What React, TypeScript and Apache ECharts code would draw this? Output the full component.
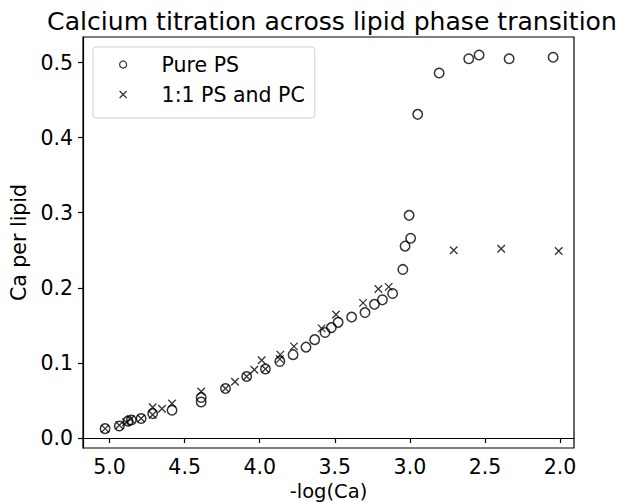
import React, { useEffect, useRef } from "react";
import * as echarts from "echarts";

const pureX = [5.03, 4.935, 4.877, 4.855, 4.79, 4.713, 4.584, 4.39, 4.39, 4.228, 4.087, 3.962, 3.866, 3.778, 3.692, 3.634, 3.565, 3.523, 3.478, 3.388, 3.299, 3.236, 3.183, 3.115, 3.047, 3.032, 2.995, 3.005, 2.948, 2.805, 2.608, 2.539, 2.339, 2.046];
const pureY = [0.0125, 0.016, 0.0225, 0.024, 0.026, 0.0325, 0.037, 0.048, 0.054, 0.066, 0.082, 0.092, 0.102, 0.111, 0.121, 0.131, 0.1405, 0.147, 0.154, 0.161, 0.167, 0.178, 0.184, 0.1925, 0.2245, 0.2555, 0.266, 0.2965, 0.431, 0.486, 0.505, 0.51, 0.505, 0.507];

const mixX = [5.03, 4.935, 4.89, 4.86, 4.79, 4.713, 4.713, 4.651, 4.584, 4.39, 4.228, 4.165, 4.087, 4.036, 3.987, 3.962, 3.866, 3.863, 3.772, 3.588, 3.492, 3.312, 3.21, 3.141, 2.708, 2.392, 2.009];
const mixY = [0.0125, 0.017, 0.021, 0.025, 0.026, 0.031, 0.041, 0.039, 0.046, 0.062, 0.066, 0.075, 0.082, 0.091, 0.1035, 0.092, 0.105, 0.111, 0.122, 0.146, 0.1645, 0.18, 0.1985, 0.2013, 0.25, 0.252, 0.249];

const seriesNames = ["Pure PS", "1:1 PS and PC"];
const titleText = "Calcium titration across lipid phase transition";
const xName = "-log(Ca)";
const yName = "Ca per lipid";

const FONT = "DejaVu Sans";
const CROSS = "path://M0,0L10,10M10,0L0,10";
const FS = 20.5;

export default function App() {
  const ref = useRef<HTMLDivElement>(null);
  useEffect(() => {
    if (!ref.current) return;
    const chart = echarts.init(ref.current, undefined, { renderer: "svg" });
    const circleStyle = { color: "transparent", borderColor: "#000", borderWidth: 1.5 };
    const crossStyle = { color: "transparent", borderColor: "#000", borderWidth: 1.3 };
    chart.setOption({
      animation: false,
      backgroundColor: "#fff",
      title: {
        text: titleText,
        left: 327,
        textAlign: "center",
        top: 4,
        textStyle: { fontFamily: FONT, fontSize: 25.1, fontWeight: "normal", color: "#000" },
      },
      legend: {
        orient: "vertical",
        left: 93,
        top: 47,
        padding: [7, 10, 13, 26],
        itemGap: 9,
        itemWidth: 7,
        itemHeight: 7,
        borderColor: "#d0d0d0",
        borderWidth: 1,
        borderRadius: 3,
        backgroundColor: "#fff",
        textStyle: { fontFamily: FONT, fontSize: FS, color: "#000", padding: [0, 0, 0, 30] },
        data: [
          { name: seriesNames[0], icon: "circle", itemStyle: { color: "transparent", borderColor: "#000", borderWidth: 1.2 } },
          { name: seriesNames[1], icon: CROSS, itemStyle: { color: "transparent", borderColor: "#000", borderWidth: 1.2 } },
        ],
      },
      grid: {
        left: 83,
        right: 45,
        top: 37,
        bottom: 54,
        outerBoundsMode: "none",
        containLabel: false,
        show: true,
        borderColor: "#000",
        borderWidth: 1.2,
        backgroundColor: "transparent",
      },
      xAxis: {
        type: "value",
        inverse: true,
        min: 1.907,
        max: 5.177,
        name: xName,
        nameLocation: "middle",
        nameGap: 23,
        nameTextStyle: { fontFamily: FONT, fontSize: 19.5, lineHeight: 20, color: "#000" },
        axisLine: { show: true, lineStyle: { color: "#000", width: 1.2 } },
        axisTick: { show: true, inside: false, length: 5, lineStyle: { color: "#000", width: 1.2 } },
        splitLine: { show: false },
        axisLabel: {
          showMinLabel: false,
          showMaxLabel: false,
          margin: 8,
          fontFamily: FONT,
          fontSize: FS,
          color: "#000",
          formatter: (v: number) => v.toFixed(1),
        },
      },
      yAxis: {
        type: "value",
        min: -0.0133,
        max: 0.534,
        name: yName,
        nameLocation: "middle",
        nameGap: 50,
        nameTextStyle: { fontFamily: FONT, fontSize: FS, color: "#000" },
        axisLine: { show: true, lineStyle: { color: "#000", width: 1.2 } },
        axisTick: { show: true, inside: false, length: 5, lineStyle: { color: "#000", width: 1.2 } },
        splitLine: { show: false },
        axisLabel: {
          showMinLabel: false,
          showMaxLabel: false,
          margin: 10,
          fontFamily: FONT,
          fontSize: FS,
          color: "#000",
          formatter: (v: number) => v.toFixed(1),
        },
      },
      series: [
        {
          name: seriesNames[0],
          type: "scatter",
          symbol: "circle",
          symbolSize: 9.5,
          itemStyle: circleStyle,
          data: pureX.map((x, i) => [x, pureY[i]]),
          clip: false,
        },
        {
          name: seriesNames[1],
          type: "scatter",
          symbol: CROSS,
          symbolSize: 7.5,
          itemStyle: crossStyle,
          data: mixX.map((x, i) => [x, mixY[i]]),
          clip: false,
        },
      ],
    });
    return () => chart.dispose();
  }, []);
  return <div ref={ref} style={{ width: 619, height: 502, position: "absolute", left: 0, top: 0 }} />;
}
